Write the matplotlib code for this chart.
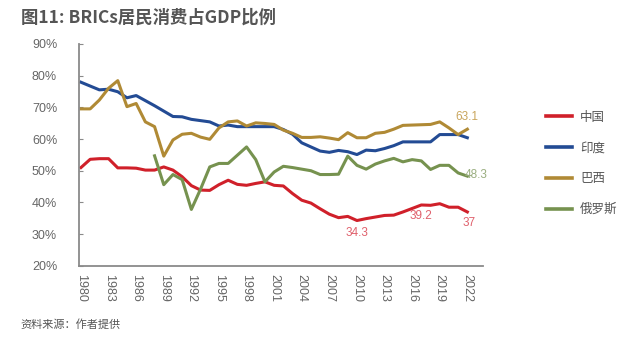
import matplotlib.pyplot as plt

plt.rcParams['font.family'] = ['Liberation Sans', 'Noto Sans CJK SC', 'DejaVu Sans']

years = list(range(1980, 2023))
russia_years = list(range(1988, 2023))

china = [51.0, 53.6, 53.8, 53.8, 50.9, 50.9, 50.8, 50.2, 50.2, 51.2,
         50.2, 48.1, 45.3, 43.9, 43.8, 45.6, 47.0, 45.7, 45.4, 46.0,
         46.5, 45.4, 45.2, 42.8, 40.7, 39.8, 38.0, 36.3, 35.2, 35.6,
         34.3, 34.9, 35.4, 35.9, 36.0, 37.0, 38.1, 39.2, 39.1, 39.6,
         38.5, 38.5, 37.0]
india = [77.9, 76.7, 75.5, 75.7, 74.9, 73.0, 73.7, 72.1, 70.5, 68.8,
         67.1, 67.0, 66.2, 65.8, 65.4, 64.1, 64.4, 63.9, 63.9, 63.9,
         63.9, 63.9, 63.0, 61.5, 58.8, 57.5, 56.2, 55.8, 56.4, 56.0,
         55.1, 56.5, 56.3, 57.0, 57.9, 59.1, 59.1, 59.1, 59.1, 61.4,
         61.4, 61.4, 60.4]
brazil = [69.5, 69.5, 72.3, 76.0, 78.4, 70.2, 71.2, 65.4, 63.9, 54.6,
          59.7, 61.5, 61.8, 60.6, 59.9, 63.5, 65.4, 65.7, 64.1, 65.1,
          64.9, 64.6, 62.8, 61.8, 60.5, 60.5, 60.7, 60.3, 59.8, 62.0,
          60.4, 60.4, 61.8, 62.1, 63.1, 64.3, 64.4, 64.5, 64.6, 65.4,
          63.5, 61.4, 63.1]
russia = [54.7, 45.6, 48.8, 47.2, 37.8, 44.2, 51.2, 52.3, 52.3, 54.9,
          57.5, 53.5, 46.5, 49.6, 51.4, 51.0, 50.5, 50.0, 48.8, 48.8,
          48.9, 54.6, 51.7, 50.5, 52.1, 53.1, 53.9, 52.8, 53.5, 53.1,
          50.4, 51.7, 51.7, 49.3, 48.3]

labels = ['中国', '印度', '巴西', '俄罗斯']
colors = ['#d0202a', '#234b94', '#b08a35', '#76924f']
label_colors = ['#e0606c', '#5a78b0', '#c9a55c', '#9aae80']

fig = plt.figure(figsize=(6.33, 3.4), dpi=100)
ax = fig.add_axes([0.125, 0.218, 0.638, 0.653])

ax.plot(years, china, color=colors[0], lw=2.2, label=labels[0])
ax.plot(years, india, color=colors[1], lw=2.2, label=labels[1])
ax.plot(years, brazil, color=colors[2], lw=2.2, label=labels[2])
ax.plot(russia_years, russia, color=colors[3], lw=2.2, label=labels[3])

# value labels
def note(x, y, txt, c, dx, dy, ha='center', va='center'):
    ax.annotate(txt, (x, y), xytext=(dx, dy), textcoords='offset points',
                ha=ha, va=va, color=c, fontsize=8.5)

note(2010, 34.3, '34.3', label_colors[0], 0, -9)
note(2017, 39.2, '39.2', label_colors[0], 0, -8)
note(2022, 37.0, '37', label_colors[0], 1, -8)
note(2022, 63.1, '63.1', label_colors[2], 0, 8.5)
note(2022, 48.3, '48.3', label_colors[3], 6, 1, ha='center')

ax.set_xlim(1979.8, 2023.7)
ax.set_ylim(20, 90)
ax.set_xticks(years[::3])
ax.set_xticklabels([str(y) for y in years[::3]], rotation=-90)
ax.set_yticks(range(20, 91, 10))
ax.set_yticklabels([f'{v}%' for v in range(20, 91, 10)])

for s in ['top', 'right']:
    ax.spines[s].set_visible(False)
for s in ['left', 'bottom']:
    ax.spines[s].set_color('#8a8a8a')
    ax.spines[s].set_linewidth(1.3)
ax.tick_params(axis='y', direction='in', length=3, color='#8a8a8a',
               labelcolor='#666666', labelsize=9, pad=34)
for t in ax.get_yticklabels():
    t.set_horizontalalignment('left')
ax.tick_params(axis='x', length=0, labelcolor='#666666', labelsize=9, pad=6)

leg = ax.legend(loc='upper left', bbox_to_anchor=(0.845, 0.705), bbox_transform=fig.transFigure,
                frameon=False, fontsize=9, handlelength=2.1, labelspacing=1.5,
                handletextpad=0.6)
for t in leg.get_texts():
    t.set_color('#555555')
for h in leg.get_lines():
    h.set_linewidth(2.6)

fig.text(0.033, 0.948, '图11: BRICs居民消费占GDP比例', fontsize=12.5, fontweight='bold',
         color='#555555', va='center', family=['Noto Sans CJK SC'])
fig.text(0.033, 0.045, '资料来源：作者提供', fontsize=8, color='#555555', va='center',
         family=['Noto Sans CJK SC'])

fig.savefig('out.png', dpi=100)
